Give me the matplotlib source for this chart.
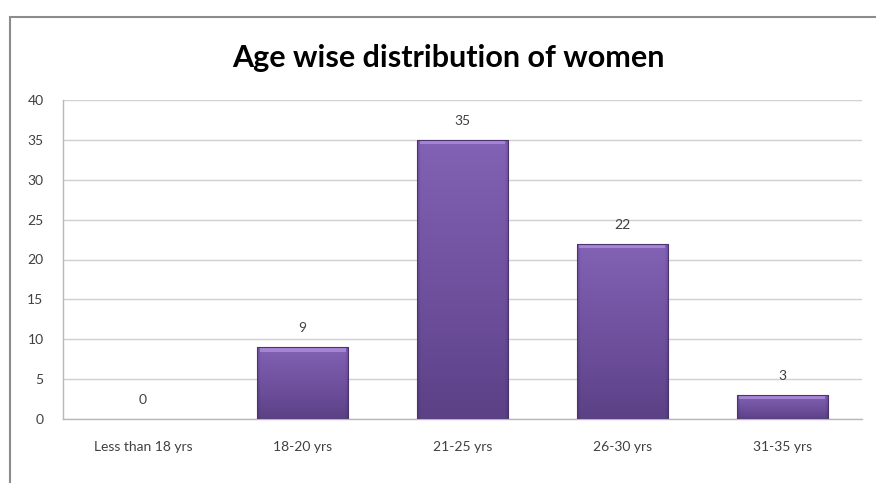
import matplotlib as mpl
import matplotlib.pyplot as plt
import numpy as np
from matplotlib.patches import Rectangle

# data
categories = ['Less than 18 yrs', '18-20 yrs', '21-25 yrs', '26-30 yrs', '31-35 yrs']
counts = [0, 9, 35, 22, 3]
y_ticks = [0, 5, 10, 15, 20, 25, 30, 35, 40]

plt.rcParams['font.family'] = ['Lato', 'DejaVu Sans']

fig = plt.figure(figsize=(8.76, 4.83), dpi=100)
ax = fig.add_axes([63/876, 64/483, 799/876, 319/483])

x = np.arange(len(categories))
bar_w = 0.57
bars = ax.bar(x, counts, width=bar_w, color='#7354a0', edgecolor='none',
              linewidth=0, zorder=3)

# shading inside each bar: lighter top, darker bottom, dark sides
cmap = mpl.colors.LinearSegmentedColormap.from_list('pur', ['#4e3673', '#6a4c98', '#8262b4'])
hx = np.linspace(0, 1, 200)
side = np.clip(np.minimum(hx, 1 - hx) / 0.04, 0, 1) * 0.25 + 0.75
for b, v in zip(bars, counts):
    if v <= 0:
        continue
    x0 = b.get_x()
    hy = np.linspace(1, 0, 100)[:, None]  # top row first
    shade = (0.55 + 0.45 * hy) * side[None, :]
    im = ax.imshow(shade, extent=[x0, x0 + bar_w, 0, v], origin='upper',
                   aspect='auto', cmap=cmap, vmin=0.4, vmax=1, zorder=3.5)
    im.set_clip_path(b)
    # lighter top cap
    ax.bar(x0 + bar_w/2, 0.5, width=bar_w * 0.94, bottom=v - 0.55,
           color='#a684d4', edgecolor='none', zorder=4)
    ax.bar(x0 + bar_w/2, v, width=bar_w, color='none',
           edgecolor='#4a3470', linewidth=0.8, zorder=5)

for xi, v in zip(x, counts):
    ax.text(xi, v + 1.6, str(v), ha='center', va='bottom', fontsize=10,
            color='#404040')

ax.set_xlim(-0.5, len(categories) - 0.5)
ax.set_ylim(0, 40)
ax.set_yticks(y_ticks)
ax.set_xticks(x)
ax.set_xticklabels(categories)
ax.yaxis.grid(True, color='#d0d0d0', linewidth=1, zorder=0)
ax.set_axisbelow(True)
for s in ['top', 'right']:
    ax.spines[s].set_visible(False)
for s in ['left', 'bottom']:
    ax.spines[s].set_color('#b8b8b8')
    ax.spines[s].set_linewidth(1)
ax.tick_params(axis='both', length=0, labelsize=10, colors='#404040')
ax.tick_params(axis='x', pad=16)
ax.tick_params(axis='y', pad=14)

fig.text(448/876, 1 - 58/483, 'Age wise distribution of women', ha='center',
         va='center', fontsize=22, fontweight='bold', color='#000000')

# outer chart frame
fig.patches.append(Rectangle((9.5/876, -0.1), 1.2, 1 - 16.5/483 + 0.1,
                             transform=fig.transFigure, fill=False,
                             edgecolor='#8c8c8c', linewidth=1.5))

plt.savefig('out.png', dpi=100)
